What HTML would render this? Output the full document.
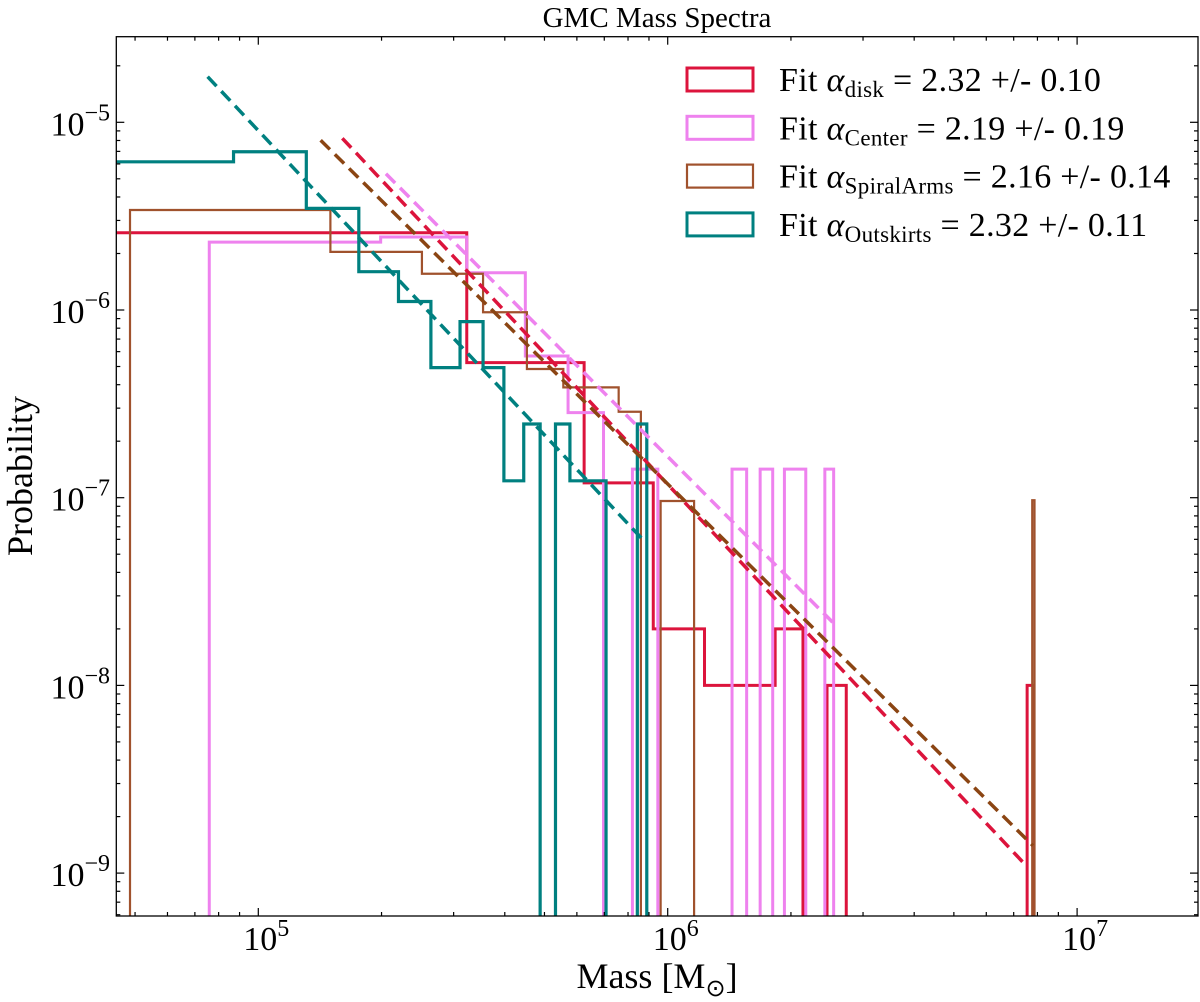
<!DOCTYPE html>
<html><head><meta charset="utf-8"><style>
html,body{margin:0;padding:0;background:#fff;}
svg{display:block;font-family:"Liberation Serif",serif;}
</style></head><body>
<svg id="chart" width="1200" height="1002" viewBox="0 0 1200 1002" xmlns="http://www.w3.org/2000/svg">
<defs><clipPath id="plotclip"><rect x="116.3" y="36.7" width="1081.7" height="879.3"/></clipPath></defs>
<text x="657" y="27" font-size="29" text-anchor="middle">GMC Mass Spectra</text>
<g id="marks" clip-path="url(#plotclip)"></g>
<rect x="116.3" y="36.7" width="1081.7" height="879.3" fill="none" stroke="#000" stroke-width="1.3"/>
<g id="ticks"></g>
<text x="657" y="988" font-size="36" text-anchor="middle">Mass [M<tspan font-size="24" dy="8">⊙</tspan><tspan dy="-8">]</tspan></text>
<text transform="translate(32,476) rotate(-90)" font-size="36" text-anchor="middle">Probability</text>
<g id="legend"></g>
</svg>
<script>
// ---- data ----
const diskEdges = [4.0e4, 3.23e5, 6.25e5, 9.22e5, 1.23e6, 1.83e6, 2.14e6, 2.45e6, 2.73e6, 7.55e6, 7.81e6];
const diskValues = [2.58e-6, 5.24e-7, 1.20e-7, 2.0e-8, 1.0e-8, 2.0e-8, 0, 1.0e-8, 0, 1.0e-8];
const centerEdges = [7.59e4, 1.99e5, 3.23e5, 4.49e5, 5.71e5, 6.97e5, 8.2e5, 9.46e5, 1.436e6, 1.559e6, 1.682e6, 1.805e6, 1.928e6, 2.174e6, 2.42e6, 2.543e6];
const centerValues = [2.30e-6, 2.45e-6, 1.58e-6, 5.69e-7, 2.84e-7, 0, 1.42e-7, 0, 1.42e-7, 0, 1.42e-7, 0, 1.42e-7, 0, 1.42e-7];
const armsEdges = [4.86e4, 1.50e5, 2.51e5, 3.54e5, 4.53e5, 5.56e5, 7.59e5, 8.6e5, 9.61e5, 1.16e6, 7.77e6, 7.87e6];
const armsValues = [3.41e-6, 2.04e-6, 1.56e-6, 9.73e-7, 4.85e-7, 3.87e-7, 2.87e-7, 0, 9.6e-8, 0, 9.7e-8];
const outEdges = [4.3e4, 8.7e4, 1.31e5, 1.76e5, 2.20e5, 2.64e5, 3.11e5, 3.54e5, 3.98e5, 4.45e5, 4.88e5, 5.32e5, 5.77e5, 7.07e5, 8.43e5, 8.89e5];
const outValues = [6.16e-6, 6.97e-6, 3.48e-6, 1.60e-6, 1.11e-6, 4.93e-7, 8.67e-7, 4.93e-7, 1.23e-7, 2.47e-7, 0, 2.47e-7, 1.23e-7, 0, 2.47e-7];
// fits: [mMin, mMax, pAtMin, alpha]
const fitNames = ["disk", "center", "spiral-arms", "outskirts"];
const fitMmin = [1.604e5, 2.05e5, 1.42e5, 7.52e4];
const fitMmax = [7.55e6, 2.55e6, 7.8e6, 8.69e5];
const fitP0 = [8.22e-6, 5.32e-6, 8.02e-6, 1.75e-5];
const fitAlpha = [2.32, 2.19, 2.16, 2.32];
const fitErr = ["0.10", "0.19", "0.14", "0.11"];
const legendSubs = ["disk", "Center", "SpiralArms", "Outskirts"];
const xTickExps = [5, 6, 7];
const yTickExps = [-5, -6, -7, -8, -9];

// ---- axes ----
const NS = "http://www.w3.org/2000/svg";
const X = m => 258.3 + 409.4 * (Math.log10(m) - 5);
const Y = p => 122.3 + 187.7 * (-5 - Math.log10(p));
const L = 116.3, R = 1198, T = 36.7, B = 916;
function mk(tag, attrs, parent) { const e = document.createElementNS(NS, tag); for (const k in attrs) e.setAttribute(k, attrs[k]); parent.appendChild(e); return e; }

const marks = document.getElementById('marks');
const histColors = ["#dc143c", "#ee82ee", "#a0522d", "#008080"];
const histW = [3, 3, 2.2, 3.2];
const histSets = [[diskEdges, diskValues], [centerEdges, centerValues], [armsEdges, armsValues], [outEdges, outValues]];
histSets.forEach((s, k) => {
  const [e, v] = s;
  let d = `M${X(e[0])},1000`;
  for (let i = 0; i < v.length; i++) {
    const y = v[i] > 0 ? Y(v[i]) : 1000;
    d += ` L${X(e[i])},${y} L${X(e[i + 1])},${y}`;
  }
  d += ` L${X(e[e.length - 1])},1000`;
  const p = mk('path', { d: d, fill: 'none', stroke: histColors[k], 'stroke-width': histW[k], 'stroke-linejoin': 'miter' }, marks);
  
  
});
const fitColors = ["#dc143c", "#ee82ee", "#8b4513", "#008080"];
fitNames.forEach((n, k) => {
  const m0 = fitMmin[k], m1 = fitMmax[k];
  const p1 = fitP0[k] * Math.pow(m1 / m0, -fitAlpha[k]);
  const ln = mk('line', { x1: X(m0), y1: Y(fitP0[k]), x2: X(m1), y2: Y(p1), stroke: fitColors[k], 'stroke-width': 3.5, 'stroke-dasharray': '13,7' }, marks);
  
  
});

// ---- ticks ----
const tg = document.getElementById('ticks');
function tickX(x, len) { mk('line', { x1: x, y1: B, x2: x, y2: B - len, stroke: '#000', 'stroke-width': 1.2 }, tg); mk('line', { x1: x, y1: T, x2: x, y2: T + len, stroke: '#000', 'stroke-width': 1.2 }, tg); }
function tickY(y, len) { mk('line', { x1: L, y1: y, x2: L + len, y2: y, stroke: '#000', 'stroke-width': 1.2 }, tg); mk('line', { x1: R, y1: y, x2: R - len, y2: y, stroke: '#000', 'stroke-width': 1.2 }, tg); }
for (let k = 4; k <= 7; k++) for (let j = 2; j <= 9; j++) { const x = X(j * Math.pow(10, k)); if (x > L && x < R) tickX(x, 4); }
for (let k = -10; k <= -5; k++) for (let j = 2; j <= 9; j++) { const y = Y(j * Math.pow(10, k)); if (y > T && y < B) tickY(y, 4); }
xTickExps.forEach(e => {
  const x = X(Math.pow(10, e));
  tickX(x, 8);
  const t = mk('text', { x: x + 8, y: 950, 'font-size': 34, 'text-anchor': 'middle' }, tg);
  t.innerHTML = `10<tspan font-size="24" dy="-14">${e}</tspan>`;
  
  
});
yTickExps.forEach(e => {
  const y = Y(Math.pow(10, e));
  tickY(y, 8);
  const t = mk('text', { x: 110, y: y + 13, 'font-size': 34, 'text-anchor': 'end' }, tg);
  t.innerHTML = `10<tspan font-size="24" dy="-15">−${-e}</tspan>`;
  
  
});

// ---- legend ----
const lg = document.getElementById('legend');
fitNames.forEach((n, k) => {
  const y0 = 68 + k * 48.3;
  const r = mk('rect', { x: 687, y: y0, width: 66, height: 23, fill: 'none', stroke: histColors[k], 'stroke-width': k === 2 ? 2.2 : 3 }, lg);
  
  
  const t = mk('text', { x: 779, y: y0 + 23, 'font-size': 34, 'letter-spacing': '0.3' }, lg);
  t.innerHTML = `Fit <tspan font-style="italic">α</tspan><tspan font-size="23" dy="6">${legendSubs[k]}</tspan><tspan dy="-6"> = ${fitAlpha[k].toFixed(2)} +/- ${fitErr[k]}</tspan>`;
  
  
});
</script>
</body></html>
